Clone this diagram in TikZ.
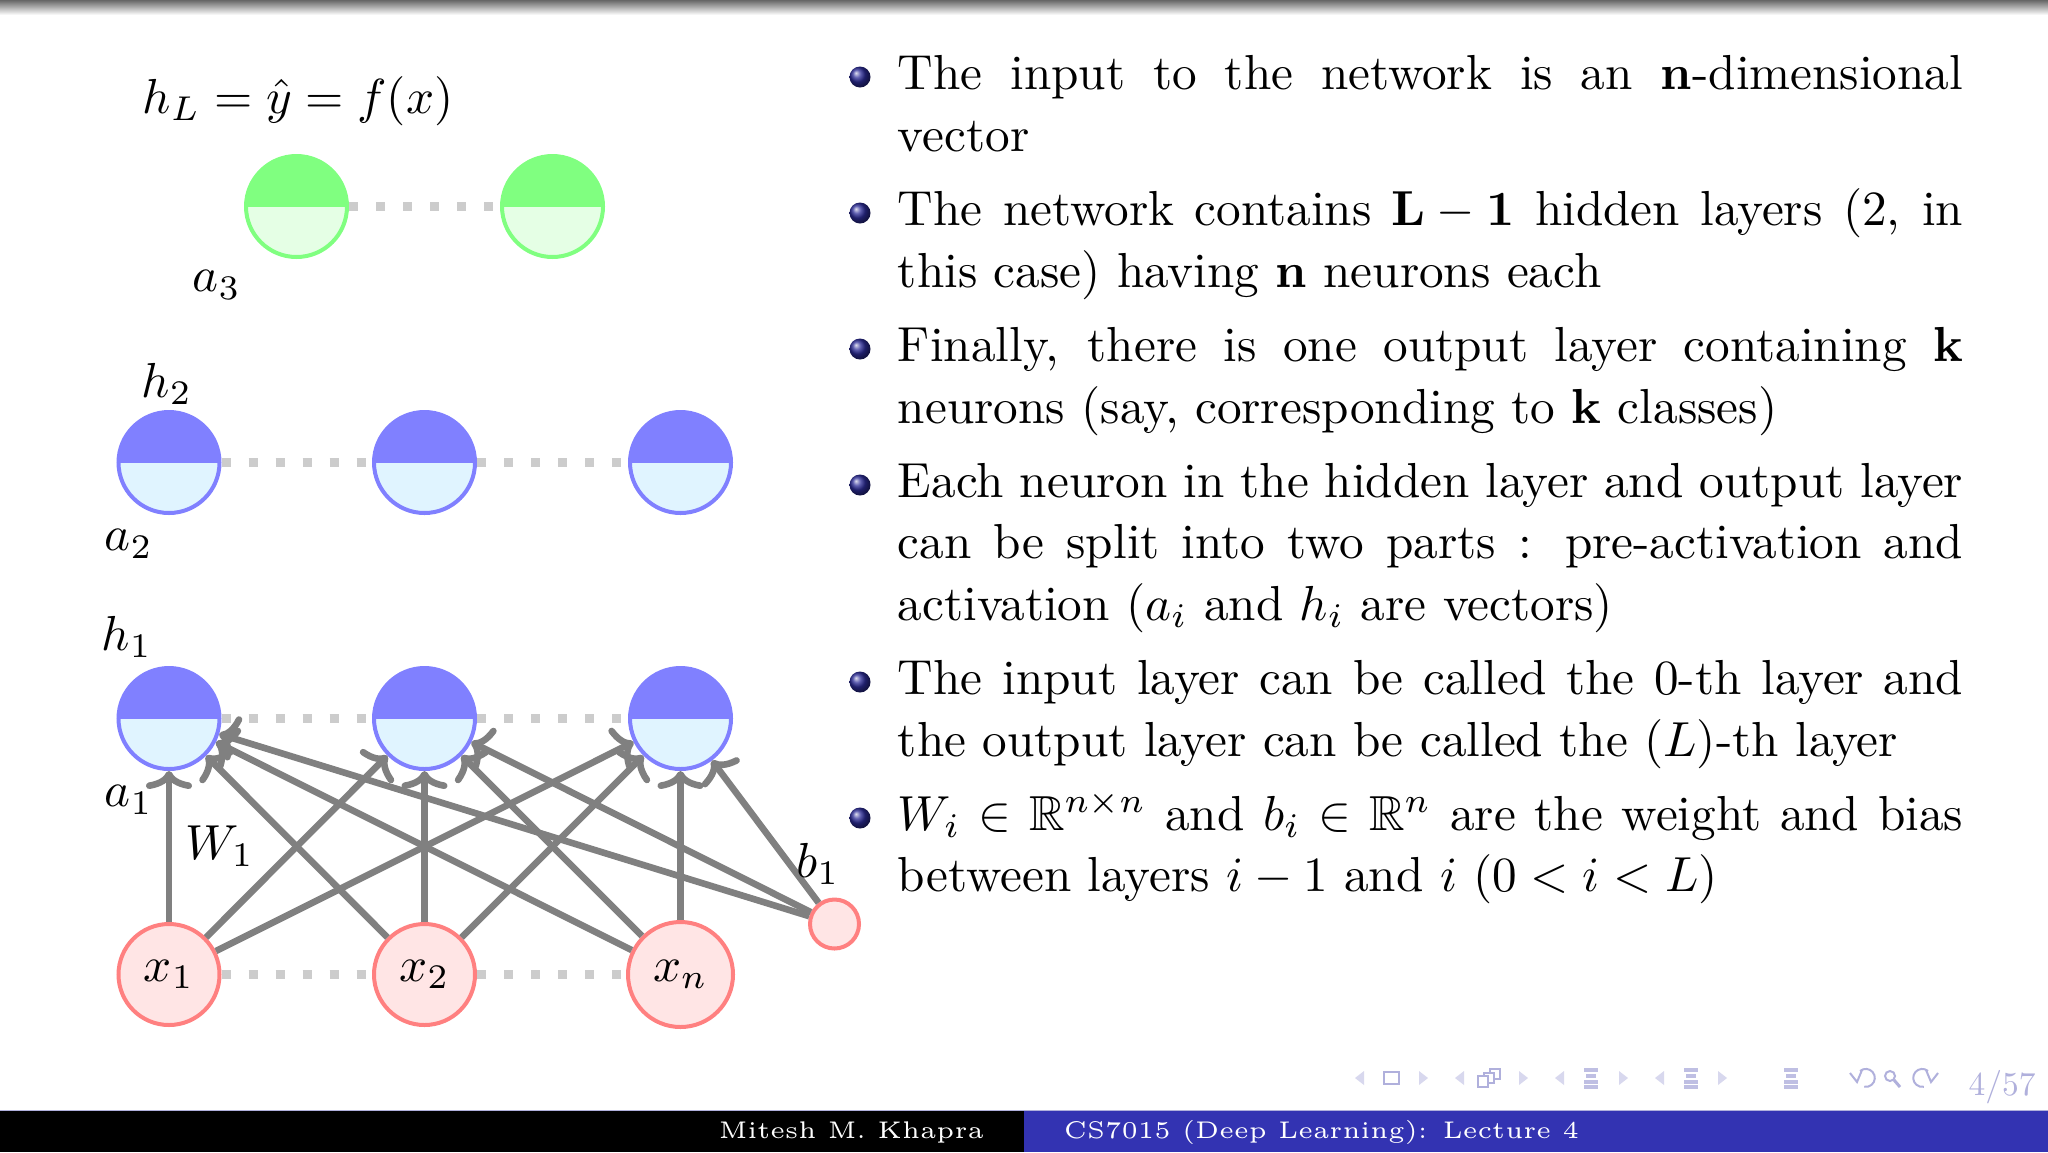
\documentclass[tikz,border=0pt]{standalone}
\usepackage{amssymb}
\usetikzlibrary{arrows.meta,shadings,calc}
\definecolor{edgegray}{HTML}{808080}
\definecolor{dotgray}{HTML}{CCCCCC}
\definecolor{blueT}{HTML}{8080FF}
\definecolor{blueB}{HTML}{E0F4FF}
\definecolor{greenT}{HTML}{80FF80}
\definecolor{greenB}{HTML}{E5FFE5}
\definecolor{redT}{HTML}{FF8080}
\definecolor{redB}{HTML}{FFE5E5}
\definecolor{footblue}{HTML}{3333B2}
\definecolor{navc}{HTML}{D8D8EE}
\definecolor{navd}{HTML}{B0B0DC}
\newcommand{\jl}[1]{\hbox to 216.5pt{#1}}
\newcommand{\para}[1]{\vbox{\baselineskip=12.48pt\lineskip=0pt #1}}
\tikzset{
  halfneuron/.style n args={2}{circle,minimum size=50.5pt,inner sep=0pt,draw=#1,line width=2pt,fill=#2,
    path picture={\fill[#1] (path picture bounding box.north west) rectangle (path picture bounding box.east);}},
  blueneuron/.style={halfneuron={blueT}{blueB}},
  greenneuron/.style={halfneuron={greenT}{greenB}},
  inneuron/.style={circle,minimum size=50.5pt,inner sep=0pt,draw=redT,line width=2pt,fill=redB},
  lab/.style={inner sep=0pt,scale=2.46},
  bodytext/.style={inner sep=0pt,anchor=base west,scale=2.46},
  dots/.style={draw=dotgray,line width=4.5pt,dash pattern=on 4.5pt off 9pt},
  edge/.style={draw=edgegray,line width=3.3pt,-{Computer Modern Rightarrow[length=9pt,width=23pt]}},
  bullball/.style={circle,minimum size=10.5pt,inner sep=0pt,ball color=footblue!85!black},
  foot/.style={text=white,inner sep=0pt,scale=2.41,font=\fontsize{5}{6}\selectfont},
  navline/.style={draw=navd,line width=1pt},
}
\begin{document}
\begin{tikzpicture}[x=0.5pt,y=-0.5pt]
\useasboundingbox (0,0) rectangle (2048,1152);
\fill[white] (0,0) rectangle (2048,1152);
\shade[top color=black!60,bottom color=white] (0,0) rectangle (2048,15);
% footer
\fill[black] (0,1110) rectangle (1024,1152);
\fill[footblue] (1024,1110) rectangle (2048,1152);
\draw[draw=navd,line width=.5pt] (0,1110) -- (2048,1110);
\node[foot,anchor=base east] (author) at (985,1138) {Mitesh M. Khapra};
\node[foot,anchor=base west] (course) at (1063,1138) {CS7015 (Deep Learning): Lecture 4};
% neurons
\node[inneuron] (x1) at (169,974.5) {\scalebox{2.46}{$x_1$}};
\node[inneuron] (x2) at (424.5,974.5) {\scalebox{2.46}{$x_2$}};
\node[inneuron,minimum size=52.5pt] (xn) at (680.5,974.5) {\scalebox{2.46}{$x_n$}};
\node[inneuron,minimum size=24.5pt] (b) at (834.5,924) {};
\node[blueneuron] (ha) at (169,718.5) {};
\node[blueneuron] (hb) at (424.5,718.5) {};
\node[blueneuron] (hc) at (680.5,718.5) {};
\node[blueneuron] (ka) at (169,462.5) {};
\node[blueneuron] (kb) at (424.5,462.5) {};
\node[blueneuron] (kc) at (680.5,462.5) {};
\node[greenneuron] (oa) at (296.5,206.5) {};
\node[greenneuron] (ob) at (552.5,206.5) {};
% dotted
\foreach \a/\c in {x1/x2,x2/xn,ha/hb,hb/hc,ka/kb,kb/kc,oa/ob}
  \draw[dots] (\a) -- (\c);
% edges
\foreach \s in {x1,x2,xn,b}
  \foreach \t in {ha,hb,hc}
    \draw[edge] (\s) -- (\t);
% labels
\node[lab] (hL) at (298,101) {$h_L=\hat{y}=f(x)$};
\node[lab] (a3) at (217,285) {$a_3$};
\node[lab] (h2) at (167,384) {$h_2$};
\node[lab] (a2) at (129,544) {$a_2$};
\node[lab] (h1) at (127,637) {$h_1$};
\node[lab] (a1) at (129,800) {$a_1$};
\node[lab] (W1) at (220,846) {$W_1$};
\node[lab] (b1) at (818,864) {$b_1$};
% bullets
\foreach \n/\y in {1/77,2/213,3/349,4/485,5/682,6/818}
  \node[bullball] (ball\n) at (860,\y) {};
\node[bodytext] (t1) at (897,151.3) {\para{\jl{The input to the network is an \textbf{n}-dimensional}\hbox{vector}}};
\node[bodytext] (t2) at (897,287.1) {\para{\jl{The network contains $\mathbf{L-1}$ hidden layers (2, in}\hbox{this case) having \textbf{n} neurons each}}};
\node[bodytext] (t3) at (897,423) {\para{\jl{Finally, there is one output layer containing \textbf{k}}\hbox{neurons (say, corresponding to \textbf{k} classes)}}};
\node[bodytext] (t4) at (897,620.3) {\para{\jl{Each neuron in the hidden layer and output layer}\jl{can be split into two parts : pre-activation and}\hbox{activation ($a_i$ and $h_i$ are vectors)}}};
\node[bodytext] (t5) at (897,756.1) {\para{\jl{The input layer can be called the 0-th layer and}\hbox{the output layer can be called the $(L)$-th layer}}};
\node[bodytext] (t6) at (897,891.9) {\para{\jl{$W_i\in\mathbb{R}^{n\times n}$ and $b_i\in\mathbb{R}^n$ are the weight and bias}\hbox{between layers $i-1$ and $i$ $(0<i<L)$}}};
% navigation symbols
\foreach \x in {1360,1460,1560,1660}
  \fill[navc] (\x-5,1078) -- (\x+4,1071) -- (\x+4,1085) -- cycle;
\foreach \x in {1423,1523,1623,1722}
  \fill[navc] (\x+5,1078) -- (\x-4,1071) -- (\x-4,1085) -- cycle;
\draw[navline] (1384,1072) rectangle (1399,1084);
\draw[navline,fill=white] (1490,1069) rectangle (1500,1079);
\draw[navline,fill=white] (1484,1073) rectangle (1494,1083);
\draw[navline,fill=white] (1478,1076) rectangle (1488,1087);
\foreach \x in {1591,1691,1791}{
  \foreach \yy/\w in {1070/7,1076/5,1082/7,1087/7}
    \draw[navline,line width=2pt,opacity=.8] (\x-\w,\yy) -- (\x+\w,\yy);
}
\draw[navline] (1860,1071) arc[start angle=-130,end angle=100,radius=9];
\draw[navline] (1850,1073) -- (1857,1082) -- (1862,1070);
\draw[navline] (1890,1076) circle[radius=5];
\draw[navline,line width=1.5pt] (1894,1080) -- (1900,1087);
\draw[navline] (1928,1071) arc[start angle=-50,end angle=-280,radius=9];
\draw[navline] (1938,1073) -- (1931,1082) -- (1926,1070);
\node[lab,text=navd,scale=0.68] (page) at (2002,1087) {4/57};
\end{tikzpicture}
\end{document}
